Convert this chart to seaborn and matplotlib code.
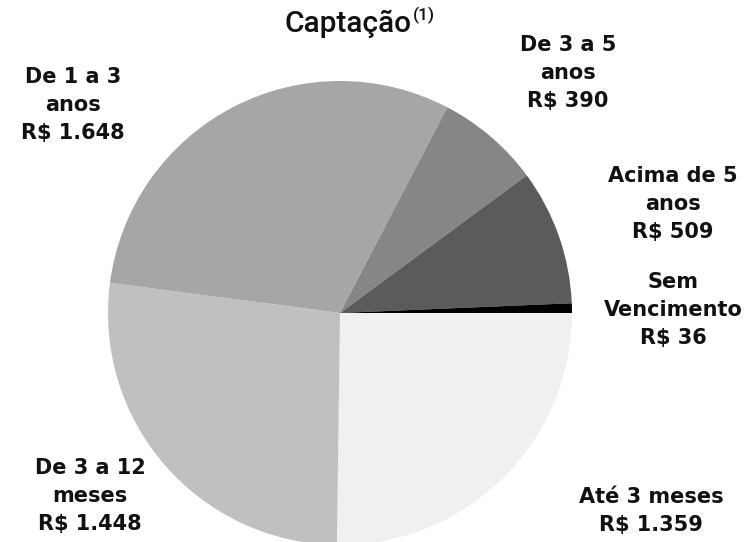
import matplotlib
matplotlib.use("Agg")
import matplotlib.pyplot as plt
import seaborn as sns

sns.set_theme(style="white")
plt.rcParams['font.family'] = ['DejaVu Sans']

categories = ["Até 3 meses", "De 3 a 12\nmeses", "De 1 a 3\nanos", "De 3 a 5\nanos",
              "Acima de 5\nanos", "Sem\nVencimento"]
values = [1359, 1448, 1648, 390, 509, 36]
value_labels = ["R$ 1.359", "R$ 1.448", "R$ 1.648", "R$ 390", "R$ 509", "R$ 36"]
colors = ["#f0f0f0", "#c0c0c0", "#a6a6a6", "#868686", "#5b5b5b", "#000000"]

W, H = 749, 542
fig = plt.figure(figsize=(W / 100, H / 100), dpi=100)
ax = fig.add_axes([0, 0, 1, 1])
cx, cy, R = 340, 542 - 313, 232
ax.pie(values, colors=colors, startangle=0, counterclock=False, radius=1,
       wedgeprops=dict(linewidth=0))
ax.set_xlim(-cx / R, (W - cx) / R)
ax.set_ylim(-cy / R, (H - cy) / R)
ax.set_aspect("equal")
ax.axis("off")

def px(x, y):
    return (x - cx) / R, ((H - y) - cy) / R

label_pos = [(651, 511), (90, 496), (73, 105), (568, 73), (673, 204), (673, 310)]
for cat, vl, (x, y) in zip(categories, value_labels, label_pos):
    ax.text(*px(x, y), cat + "\n" + vl, ha="center", va="center",
            fontsize=15, fontweight="bold", linespacing=1.5, color="#111111")

ax.text(*px(412, 24), "Captação", ha="right", va="center", fontsize=21.5,
        family="Roboto", fontweight="medium", color="#111111")
ax.text(*px(413, 15), "(1)", ha="left", va="center", fontsize=12.5,
        family="Roboto", fontweight="medium", color="#111111")

fig.savefig("out.png", dpi=100)
